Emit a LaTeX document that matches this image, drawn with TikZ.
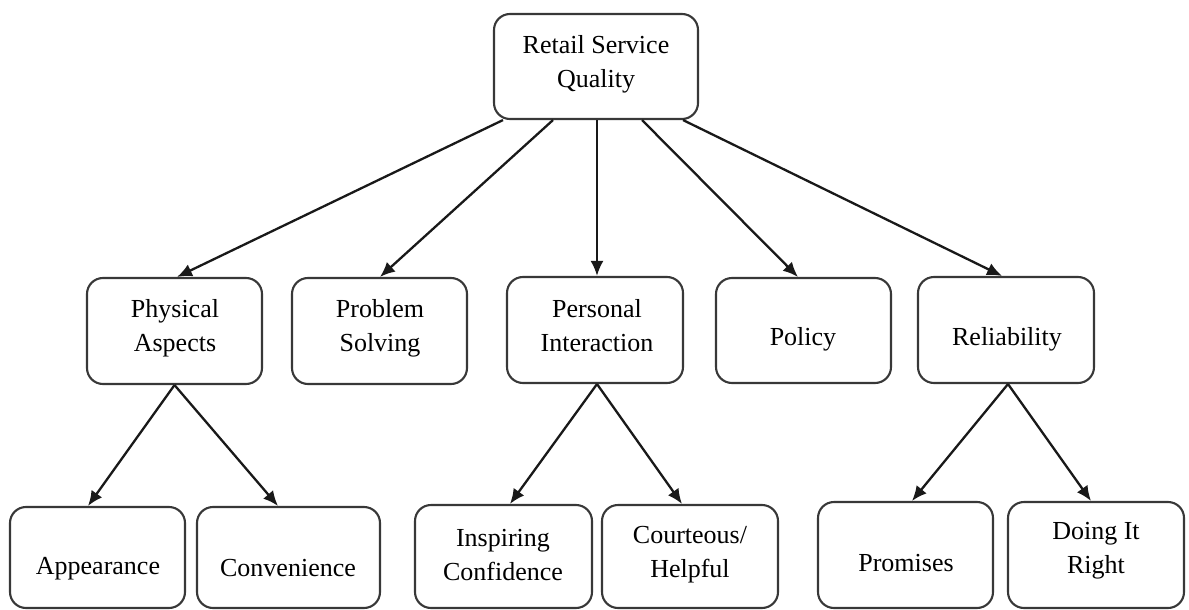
\documentclass[tikz,border=0pt]{standalone}
\usepackage{fontspec}
\setmainfont{Liberation Serif}
\usetikzlibrary{arrows.meta,calc}
\begin{document}
\begin{tikzpicture}[x=1pt,y=-1pt,
  box/.style={draw=black!78, line width=2.1pt, rounded corners=16pt, inner sep=0pt, fill=white},
  txt/.style={font=\rmfamily\fontsize{26}{34}\selectfont, align=center, inner sep=0pt, text=black},
  arr/.style={draw=black!90, line width=2.3pt, -{Latex[length=15pt,width=13pt]}}]
\useasboundingbox (0,0) rectangle (1189,610);
% top
\node[box, minimum width=204pt, minimum height=105pt] (rsq) at (596,66.5) {};
\node[txt] (rsqt) at (596,64) {Retail Service\\Quality};
% middle row
\node[box, minimum width=175pt, minimum height=106pt] (pa) at (174.5,331) {};
\node[box, minimum width=175pt, minimum height=106pt] (ps) at (379.5,331) {};
\node[box, minimum width=176pt, minimum height=106pt] (pi) at (595,330) {};
\node[box, minimum width=175pt, minimum height=105pt] (po) at (803.5,330.5) {};
\node[box, minimum width=176pt, minimum height=106pt] (re) at (1006,330) {};
\node[txt] (pat) at (175,328) {Physical\\Aspects};
\node[txt] (pst) at (380,328) {Problem\\Solving};
\node[txt] (pit) at (597,326) {Personal\\Interaction};
\node[txt] (pot) at (803,339) {Policy};
\node[txt] (ret) at (1007,339) {Reliability};
% bottom row
\node[box, minimum width=175pt, minimum height=101pt] (ap) at (97.5,557.5) {};
\node[box, minimum width=183pt, minimum height=101pt] (co) at (288.5,557.5) {};
\node[box, minimum width=177pt, minimum height=103pt] (ic) at (503.5,556.5) {};
\node[box, minimum width=176pt, minimum height=103pt] (ch) at (690,556.5) {};
\node[box, minimum width=175pt, minimum height=106pt] (pr) at (905.5,555) {};
\node[box, minimum width=176pt, minimum height=106pt] (dr) at (1096,555) {};
\node[txt] (apt) at (98,569) {Appearance};
\node[txt] (cot) at (288,568) {Convenience};
\node[txt] (ict) at (503,555) {Inspiring\\Confidence};
\node[txt] (cht) at (690,555) {Courteous/\\Helpful};
\node[txt] (prt) at (906,563) {Promises};
\node[txt] (drt) at (1096,551) {Doing It\\Right};
% connectors from top
\draw[arr] ([xshift=-93pt]rsq.south) -- ([xshift=2.5pt]pa.north);
\draw[arr] ([xshift=-43pt]rsq.south) -- ([xshift=0.5pt]ps.north);
\draw[arr] ([xshift=1pt]rsq.south) -- ([xshift=2pt]pi.north);
\draw[arr] ([xshift=46pt]rsq.south) -- ([xshift=-5.5pt]po.north);
\draw[arr] ([xshift=87pt]rsq.south) -- ([xshift=-4pt]re.north);
% children
\draw[arr] (pa.south) -- ([xshift=-9.5pt]ap.north);
\draw[arr] (pa.south) -- ([xshift=-10.5pt]co.north);
\draw[arr] ([xshift=2pt]pi.south) -- ([xshift=6.5pt]ic.north);
\draw[arr] ([xshift=2pt]pi.south) -- ([xshift=-8pt]ch.north);
\draw[arr] ([xshift=2pt]re.south) -- ([xshift=6.5pt]pr.north);
\draw[arr] ([xshift=2pt]re.south) -- ([xshift=-5pt]dr.north);
\end{tikzpicture}
\end{document}
